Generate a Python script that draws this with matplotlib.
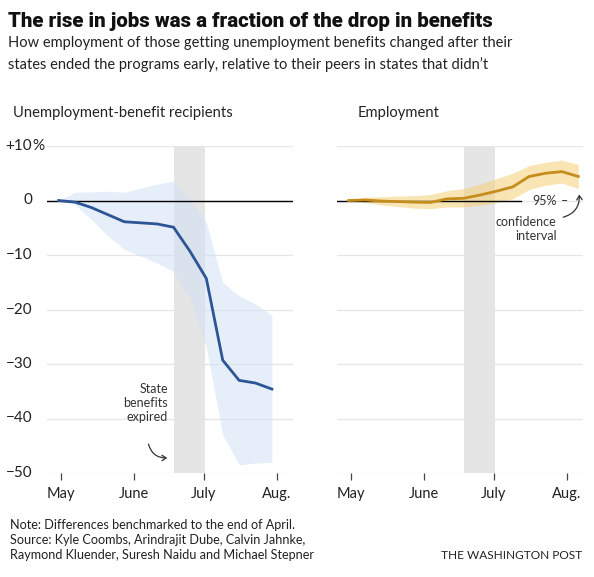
import numpy as np
import matplotlib.pyplot as plt
from matplotlib.patches import FancyArrowPatch

plt.rcParams['font.family'] = ['Lato', 'DejaVu Sans']

# days counted from May 1 (weekly observations)
days_left = [-1, 6, 13, 20, 27, 34, 41, 48, 55, 62, 69, 76, 83, 90]
recip = [0.0, -0.3, -1.3, -2.6, -3.9, -4.1, -4.3, -4.9, -9.3, -14.3, -29.3, -33.0, -33.5, -34.6]
recip_hi = [0.0, 1.5, 1.6, 1.7, 1.5, 2.3, 3.0, 3.6, 0.3, -4.0, -15.0, -17.5, -19.0, -21.0]
recip_lo = [0.0, -0.8, -3.5, -6.5, -9.0, -10.2, -11.5, -13.0, -18.0, -27.0, -43.0, -48.5, -48.2, -48.0]

days_right = [-1, 6, 13, 20, 27, 34, 41, 48, 55, 62, 69, 76, 83, 90, 97]
employ = [0.0, 0.1, -0.1, -0.2, -0.3, -0.35, 0.3, 0.4, 1.0, 1.7, 2.5, 4.4, 5.0, 5.3, 4.4]
employ_hi = [0.0, 0.6, 0.7, 0.8, 0.9, 1.1, 1.8, 2.2, 3.0, 4.0, 5.0, 6.4, 7.0, 7.4, 6.6]
employ_lo = [0.0, -0.4, -0.8, -1.1, -1.4, -1.5, -1.2, -1.2, -0.9, -0.4, 0.3, 2.0, 2.8, 3.2, 2.2]

month_pos = [0, 31, 61, 92]
month_lab = ['May', 'June', 'July', 'Aug.']
expired = (48, 61.3)
yticks = [10, 0, -10, -20, -30, -40, -50]
ylabs = ['+10', '0', '\u221210', '\u221220', '\u221230', '\u221240', '\u221250']

W, H = 594, 577
fig = plt.figure(figsize=(W / 100, H / 100), dpi=100)

def fx(px):
    return px / W

def fy(py):
    return 1 - py / H

ax1 = fig.add_axes([fx(47), fy(473), fx(246), (473 - 146) / H])
ax2 = fig.add_axes([fx(337), fy(473), fx(246), (473 - 146) / H])

for ax in (ax1, ax2):
    ax.set_xlim(-6, 99)
    ax.set_ylim(-50, 10)
    for s in ax.spines.values():
        s.set_visible(False)
    for y in yticks:
        ax.axhline(y, color='#e6e6e6', lw=0.9, zorder=0)
    ax.axvspan(*expired, color='#e5e5e5', lw=0, zorder=1)
    ax.set_yticks([])
    ax.set_xticks(month_pos)
    ax.set_xticklabels(month_lab, fontsize=10.5, color='#222222')
    ax.tick_params(axis='x', length=5, width=0.9, color='#444444', pad=5)

# left panel
ax1.fill_between(days_left, recip_lo, recip_hi, color='#cfe0f5', alpha=0.5, lw=0, zorder=2)
ax1.axhline(0, color='black', lw=1, zorder=3)
ax1.plot(days_left, recip, color='#2d5596', lw=2, zorder=4, solid_joinstyle='miter')
for y, l in zip(yticks, ylabs):
    ax1.text(-0.06, y, l, transform=ax1.get_yaxis_transform(), ha='right', va='center',
             fontsize=11, color='#222222')
ax1.text(-0.06, 10, '%', transform=ax1.get_yaxis_transform(), ha='left', va='center',
         fontsize=11, color='#222222')

ax1.text(45.6, -37.2, 'State\nbenefits\nexpired', ha='right', va='center', fontsize=9,
         color='#333333', linespacing=1.2)
ax1.add_patch(FancyArrowPatch((37, -44.2), (46.5, -47.2), connectionstyle='arc3,rad=0.45',
                              arrowstyle='->,head_length=3,head_width=2', color='#333333', lw=0.9))

# right panel
ax2.fill_between(days_right, employ_lo, employ_hi, color='#f5cd6a', alpha=0.5, lw=0, zorder=2)
ax2.plot([-6, 72.4], [0, 0], color='black', lw=1, zorder=3)
ax2.plot(days_right, employ, color='#c58d1c', lw=2, zorder=4)
ax2.text(87.7, -0.1, '95%', ha='right', va='center', fontsize=9, color='#333333')
ax2.text(89.4, -0.1, '\u2013', ha='left', va='center', fontsize=9, color='#333333')
ax2.text(87.7, -2.9, 'confidence\ninterval', ha='right', va='top', fontsize=9,
         color='#333333', linespacing=1.2)
ax2.add_patch(FancyArrowPatch((89.4, -3.2), (97.3, 1.6), connectionstyle='arc3,rad=0.45',
                              arrowstyle='->,head_length=3,head_width=2', color='#333333', lw=0.9))

# titles and notes
fig.text(fx(8), fy(27), 'The rise in jobs was a fraction of the drop in benefits',
         fontsize=14.7, fontweight='black', family=['Roboto', 'DejaVu Sans'], color='#111111',
         va='baseline')
fig.text(fx(8), fy(47), 'How employment of those getting unemployment benefits changed after their',
         fontsize=10.5, color='#222222', va='baseline')
fig.text(fx(8), fy(69.5), 'states ended the programs early, relative to their peers in states that didn\u2019t',
         fontsize=10.5, color='#222222', va='baseline')
fig.text(fx(13), fy(117), 'Unemployment-benefit recipients', fontsize=10.65, color='#222222', va='baseline')
fig.text(fx(358), fy(117), 'Employment', fontsize=10.65, color='#222222', va='baseline')

fig.text(fx(10), fy(529), 'Note: Differences benchmarked to the end of April.', fontsize=9.1,
         color='#222222', va='baseline')
fig.text(fx(10), fy(544), 'Source: Kyle Coombs, Arindrajit Dube, Calvin Jahnke,', fontsize=9.1,
         color='#222222', va='baseline')
fig.text(fx(10), fy(559), 'Raymond Kluender, Suresh Naidu and Michael Stepner', fontsize=9.1,
         color='#222222', va='baseline')
fig.text(fx(582), fy(559), 'THE WASHINGTON POST', fontsize=8.6, color='#222222', va='baseline',
         ha='right')

fig.savefig('out.png', dpi=100, facecolor='white')
